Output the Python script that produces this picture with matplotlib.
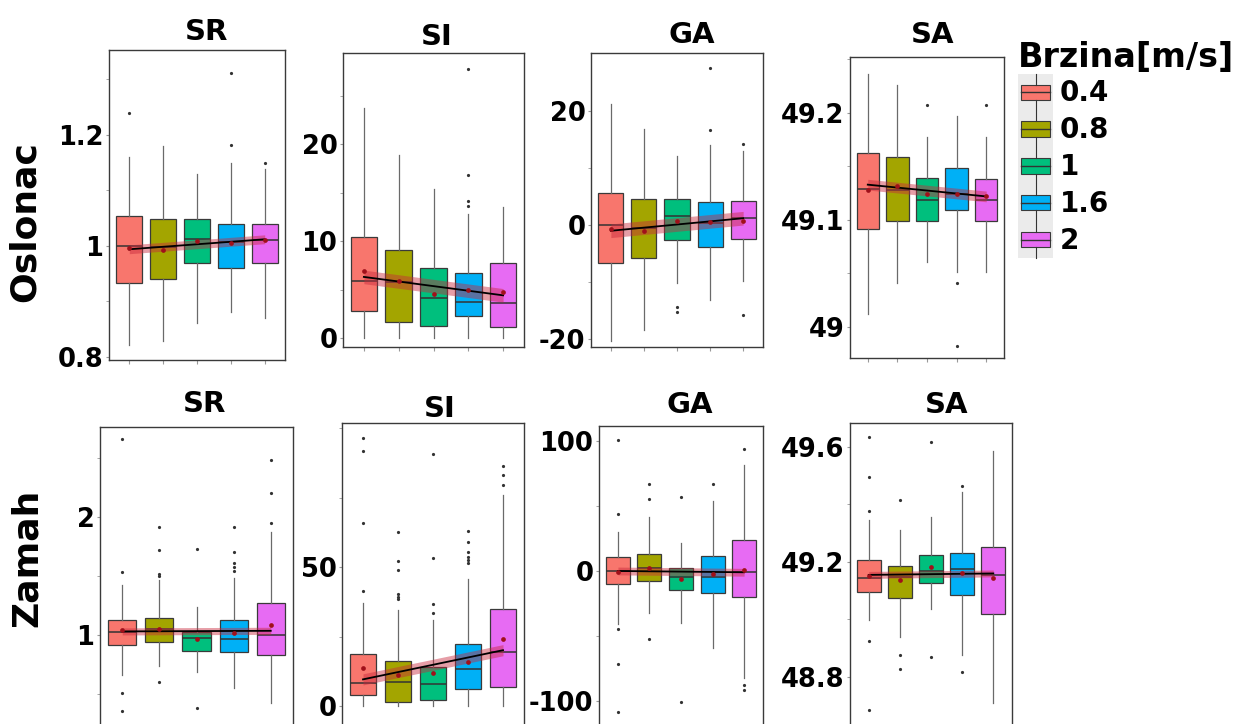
import numpy as np
import matplotlib
matplotlib.use("Agg")
import matplotlib.pyplot as plt
from matplotlib.patches import Rectangle
from matplotlib.lines import Line2D
from matplotlib.legend_handler import HandlerBase

plt.rcParams["font.family"] = ["DejaVu Sans"]
plt.rcParams["font.weight"] = "bold"

# ---------------------------------------------------------------- data
speeds = ["0.4", "0.8", "1", "1.6", "2"]
speed_colors = ["#F8766D", "#A3A500", "#00BF7D", "#00B0F6", "#E76BF3"]
metrics = ["SR", "SI", "GA", "SA"]
phases = ["Oslonac", "Zamah"]

# Oslonac (stance) phase: one row per metric SR, SI, GA, SA; one column per speed
osl_q1 = [[0.934, 0.940, 0.970, 0.960, 0.970],
          [2.8, 1.7, 1.2, 2.3, 1.1],
          [-6.7, -5.8, -2.6, -3.9, -2.4],
          [49.092, 49.099, 49.099, 49.109, 49.099]]
osl_med = [[1.000, 0.998, 1.012, 1.007, 1.011],
           [5.9, 5.8, 4.1, 3.7, 3.6],
           [0.0, -0.5, 1.6, 0.4, 1.3],
           [49.129, 49.128, 49.119, 49.124, 49.119]]
osl_q3 = [[1.054, 1.049, 1.049, 1.039, 1.039],
          [10.4, 9.1, 7.2, 6.7, 7.7],
          [5.7, 4.6, 4.6, 4.0, 4.2],
          [49.163, 49.159, 49.139, 49.149, 49.138]]
osl_lo = [[0.822, 0.829, 0.861, 0.881, 0.870],
          [0.0, 0.0, 0.0, 0.0, 0.0],
          [-20.3, -18.4, -10.2, -13.2, -9.9],
          [49.012, 49.041, 49.061, 49.051, 49.051]]
osl_hi = [[1.161, 1.180, 1.130, 1.149, 1.138],
          [23.7, 18.9, 15.4, 12.8, 13.5],
          [21.3, 16.8, 12.1, 14.0, 13.0],
          [49.236, 49.226, 49.178, 49.197, 49.178]]
osl_mean = [[0.996, 0.993, 1.008, 1.006, 1.011],
            [6.9, 5.9, 4.5, 4.9, 4.7],
            [-0.7, -1.0, 0.7, 0.6, 0.8],
            [49.128, 49.132, 49.124, 49.124, 49.122]]
osl_fliers = [[[1.240], [], [], [1.311, 1.181], [1.150]],
              [[], [], [], [27.8, 16.8, 14.1, 13.6], []],
              [[], [], [-14.3, -15.3], [27.5, 16.7], [14.2, -15.8]],
              [[], [], [49.207], [49.041, 48.982], [49.207]]]
osl_fit_start = [0.994, 6.3, -1.0, 49.133]
osl_fit_end = [1.012, 4.4, 1.2, 49.122]
osl_fit_band = [0.008, 0.7, 1.2, 0.005]

# Zamah (swing) phase
zam_q1 = [[0.915, 0.944, 0.867, 0.853, 0.831],
          [4.0, 1.5, 2.2, 6.0, 6.9],
          [-10.3, -7.7, -14.6, -17.2, -19.7],
          [49.097, 49.075, 49.126, 49.084, 49.018]]
zam_med = [[1.023, 1.048, 0.977, 0.963, 1.000],
           [8.2, 8.8, 7.8, 13.3, 19.5],
           [0.0, 2.6, -4.4, -4.9, -1.0],
           [49.145, 49.149, 49.170, 49.176, 49.155]]
zam_q3 = [[1.127, 1.141, 1.028, 1.127, 1.268],
          [18.6, 16.2, 14.1, 22.3, 34.9],
          [10.5, 13.1, 2.6, 11.8, 23.8],
          [49.207, 49.186, 49.224, 49.232, 49.253]]
zam_lo = [[0.662, 0.738, 0.690, 0.549, 0.423],
          [0.0, 0.0, 0.0, 0.0, 0.0],
          [-40.8, -32.6, -40.3, -59.5, -82.6],
          [48.998, 48.938, 49.038, 48.877, 48.709]]
zam_hi = [[1.423, 1.465, 1.239, 1.479, 1.873],
          [36.9, 34.5, 30.9, 45.6, 75.9],
          [30.3, 41.8, 21.3, 54.1, 81.5],
          [49.346, 49.311, 49.355, 49.442, 49.584]]
zam_mean = [[1.042, 1.051, 0.963, 1.014, 1.085],
            [13.8, 11.2, 11.8, 15.7, 24.1],
            [-0.5, 2.6, -6.4, -2.3, 0.8],
            [49.151, 49.137, 49.183, 49.163, 49.145]]
zam_fliers = [[[2.654, 1.535, 0.507, 0.358], [1.910, 1.718, 1.516, 1.499, 0.605],
               [1.727, 0.386], [1.910, 1.704, 1.606, 1.577, 1.541], [2.479, 2.203, 1.949]],
              [[96.3, 91.7, 65.7, 41.5], [62.5, 52.3, 48.9, 40.3, 39.3, 38.5],
               [90.6, 53.3, 36.7, 33.3], [63.1, 58.9, 55.3, 53.7, 52.5, 51.5], [86.3, 83.0, 79.5]],
              [[100.8, 43.6, -44.9, -71.5, -108.2], [66.7, 55.4, -52.6], [56.7, -101.0],
               [66.7], [94.1, -87.7, -91.5]],
              [[49.634, 49.497, 49.377, 48.926, 48.685], [49.416, 48.877, 48.828],
               [49.616, 48.868], [49.464, 48.816], []]]
zam_fit_start = [1.030, 9.6, 0.0, 49.155]
zam_fit_end = [1.035, 20.1, -1.0, 49.160]
zam_fit_band = [0.03, 2.0, 3.0, 0.012]

# y-axis ticks per row / metric
osl_ticks = [[0.8, 1.0, 1.2], [0, 10, 20], [-20, 0, 20], [49.0, 49.1, 49.2]]
osl_ticklabels = [["0.8", "1", "1.2"], ["0", "10", "20"], ["-20", "0", "20"], ["49", "49.1", "49.2"]]
osl_minor = [[0.9, 1.1, 1.3], [5, 15, 25], [-10, 10], [49.05, 49.15, 49.25]]
zam_ticks = [[1, 2], [0, 50], [-100, 0, 100], [48.8, 49.2, 49.6]]
zam_ticklabels = [["1", "2"], ["0", "50"], ["-100", "0", "100"], ["48.8", "49.2", "49.6"]]
zam_minor = [[0.5, 1.5, 2.5], [25, 75, 100], [-50, 50], [49.0, 49.4]]

# ---------------------------------------------------------------- layout
W, H = 1243, 724
fig = plt.figure(figsize=(W / 100, H / 100), dpi=100)

# panel frames in pixels: (left, top, right, bottom) and y-ranges
osl_frames = [(109, 50, 285, 360), (343, 53, 524, 347), (591, 53, 763, 347), (850, 57, 1004, 358)]
osl_ylims = [(0.7945, 1.353), (-0.93, 29.4), (-21.4, 30.2), (48.971, 49.2523)]
zam_frames = [(100, 427, 293, 740), (342, 423, 524, 740), (599, 426, 763, 740), (850, 423, 1012, 740)]
zam_ylims = [(0.112, 2.758), (-12.2, 101.8), (-130.0, 111.5), (48.581, 49.683)]

osl_title_xy = [(207, 40), (437, 45), (692, 43), (933, 43)]
zam_title_xy = [(205, 412), (440, 417), (690, 413), (947, 413)]


def px_axes(frame):
    l, t, r, b = frame
    return fig.add_axes([l / W, 1 - b / H, (r - l) / W, (b - t) / H])


def draw_panel(ax, q1, med, q3, lo, hi, mean, fliers, fit0, fit1, band,
               ylim, ticks, ticklabels, minor):
    stats = []
    for i in range(len(speeds)):
        stats.append(dict(med=med[i], q1=q1[i], q3=q3[i], whislo=lo[i], whishi=hi[i],
                          fliers=np.array(fliers[i]), mean=mean[i], label=speeds[i]))
    bp = ax.bxp(stats, positions=range(1, 6), widths=0.76, patch_artist=True,
                showcaps=False, showmeans=True,
                boxprops=dict(edgecolor="#3a3a3a", linewidth=0.9),
                medianprops=dict(color="#333333", linewidth=1.1),
                whiskerprops=dict(color="#6a6a6a", linewidth=0.9),
                flierprops=dict(marker="o", markersize=2.3, markerfacecolor="#333333",
                                markeredgecolor="none"),
                meanprops=dict(marker="o", markersize=3.4, markerfacecolor="#A0101A",
                               markeredgecolor="none"))
    for patch, c in zip(bp["boxes"], speed_colors):
        patch.set_facecolor(c)
    # linear trend across speeds with its confidence band
    xs = [1, 5]
    ax.fill_between(xs, [fit0 - band, fit1 - band], [fit0 + band, fit1 + band],
                    color="#C8283C", alpha=0.45, linewidth=0, zorder=3)
    ax.plot(xs, [fit0, fit1], color="black", linewidth=1.3, zorder=4)
    for m in bp["means"]:
        m.set_zorder(5)

    ax.set_xlim(0.4, 5.6)
    ax.set_ylim(*ylim)
    ax.set_xticks(range(1, 6))
    ax.set_xticklabels([])
    ax.set_yticks(ticks)
    ax.set_yticklabels(ticklabels)
    ax.set_yticks(minor, minor=True)
    ax.tick_params(axis="y", which="both", length=2.5, color="#999999", pad=1.5,
                   labelsize=18.5)
    ax.tick_params(axis="x", length=3, color="#999999")
    for s in ax.spines.values():
        s.set_color("#3a3a3a")
        s.set_linewidth(1.0)
    ax.set_facecolor("white")


rows = [
    (osl_q1, osl_med, osl_q3, osl_lo, osl_hi, osl_mean, osl_fliers,
     osl_fit_start, osl_fit_end, osl_fit_band, osl_frames, osl_ylims,
     osl_ticks, osl_ticklabels, osl_minor, osl_title_xy),
    (zam_q1, zam_med, zam_q3, zam_lo, zam_hi, zam_mean, zam_fliers,
     zam_fit_start, zam_fit_end, zam_fit_band, zam_frames, zam_ylims,
     zam_ticks, zam_ticklabels, zam_minor, zam_title_xy),
]

for (q1, med, q3, lo, hi, mean, fl, f0, f1, fb, frames, ylims,
     ticks, tlabels, minor, title_xy) in rows:
    for j, metric in enumerate(metrics):
        ax = px_axes(frames[j])
        draw_panel(ax, q1[j], med[j], q3[j], lo[j], hi[j], mean[j], fl[j],
                   f0[j], f1[j], fb[j], ylims[j], ticks[j], tlabels[j], minor[j])
        tx, ty = title_xy[j]
        fig.text(tx / W, 1 - ty / H, metric, fontsize=21, fontweight="bold",
                 ha="center", va="baseline")

# row labels
fig.text(25 / W, 1 - 222 / H, phases[0], rotation=90, fontsize=26, fontweight="bold",
         ha="center", va="center")
fig.text(27 / W, 1 - 558 / H, phases[1], rotation=90, fontsize=26, fontweight="bold",
         ha="center", va="center")


# ---------------------------------------------------------------- legend
class BoxKey(HandlerBase):
    def create_artists(self, legend, orig_handle, xdescent, ydescent, width, height,
                       fontsize, trans):
        x0, y0 = -xdescent, -ydescent
        bg = Rectangle((x0, y0), width, height, facecolor="#EBEBEB", edgecolor="none",
                       transform=trans)
        bw, bh = 0.83 * width, 0.42 * height
        bx, by = x0 + (width - bw) / 2, y0 + (height - bh) / 2
        box = Rectangle((bx, by), bw, bh, facecolor=orig_handle.get_facecolor(),
                        edgecolor="#3a3a3a", linewidth=0.8, transform=trans)
        cx, cy = x0 + width / 2, y0 + height / 2
        med = Line2D([bx, bx + bw], [cy, cy], color="#333333", linewidth=1.0, transform=trans)
        w1 = Line2D([cx, cx], [by + bh, y0 + height], color="#333333", linewidth=0.8,
                    transform=trans)
        w2 = Line2D([cx, cx], [y0, by], color="#333333", linewidth=0.8, transform=trans)
        return [bg, box, med, w1, w2]


handles = [Rectangle((0, 0), 1, 1, facecolor=c) for c in speed_colors]
key = BoxKey()
leg = fig.legend(handles, speeds, title="Brzina[m/s]", loc="upper left",
                 bbox_to_anchor=(1018 / W, 1 - 41 / H), frameon=False,
                 fontsize=20, title_fontsize=24, handlelength=1.26, handleheight=1.66,
                 handletextpad=0.25, labelspacing=0.0, borderpad=0.0, borderaxespad=0.0,
                 alignment="left", handler_map={h: key for h in handles})
for t in leg.get_texts():
    t.set_fontweight("bold")
leg.get_title().set_fontweight("bold")

fig.savefig("out.png", dpi=100)
